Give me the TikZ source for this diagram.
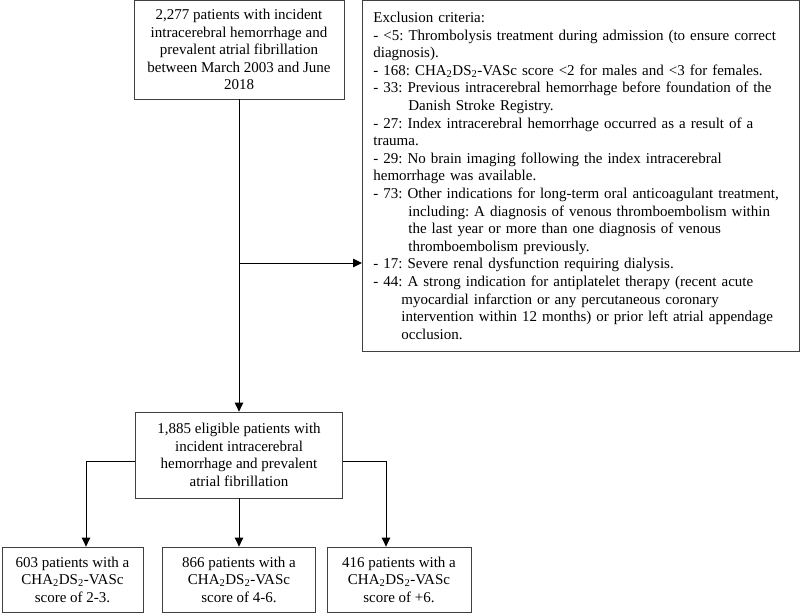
\documentclass[tikz,border=0pt]{standalone}
\usepackage{fontspec}
\setmainfont{Liberation Serif}
\usetikzlibrary{arrows.meta}
\newcommand{\chads}{CHA\textsubscript{2}DS\textsubscript{2}-VASc}
\frenchspacing

\begin{document}
\begin{tikzpicture}[x=1pt,y=-1pt,
        box/.style={draw=black!75,line width=0.8pt,align=center,inner sep=0pt,
            font=\fontsize{15}{17.6}\selectfont},
        link/.style={line width=0.9pt,-{Triangle[length=9pt,width=8.5pt]}}]
            \useasboundingbox (0,0) rectangle (800,613);
            % cohort
            \node[box,minimum width=210pt,minimum height=99pt] (cohort) at (239,49.5)
                {2,277 patients with incident\\intracerebral hemorrhage and\\prevalent atrial fibrillation\\between March 2003 and June\\2018};
            \node[box,anchor=north west,align=left,text width=415pt,inner xsep=11pt,
                minimum height=351pt] (excl) at (362,0)
                {Exclusion criteria:\\
                - <5: Thrombolysis treatment during admission (to ensure correct\\
                diagnosis).\\
                - 168: \chads{} score <2 for males and <3 for females.\\
                - 33: Previous intracerebral hemorrhage before foundation of the\\
                \hspace*{35pt}Danish Stroke Registry.\\
                - 27: Index intracerebral hemorrhage occurred as a result of a\\
                trauma.\\
                - 29: No brain imaging following the index intracerebral\\
                hemorrhage was available.\\
                - 73: Other indications for long-term oral anticoagulant treatment,\\
                \hspace*{35pt}including: A diagnosis of venous thromboembolism within\\
                \hspace*{35pt}the last year or more than one diagnosis of venous\\
                \hspace*{35pt}thromboembolism previously.\\
                - 17: Severe renal dysfunction requiring dialysis.\\
                - 44: A strong indication for antiplatelet therapy (recent acute\\
                \hspace*{28pt}myocardial infarction or any percutaneous coronary\\
                \hspace*{28pt}intervention within 12 months) or prior left atrial appendage\\
                \hspace*{28pt}occlusion.};
            \node[box,minimum width=207pt,minimum height=86pt] (eligible) at (239,455)
                {1,885 eligible patients with\\incident intracerebral\\hemorrhage and prevalent\\atrial fibrillation};
            % score groups
            \node[box,minimum width=141pt,minimum height=65pt] (low) at (72.5,579.5)
                {603 patients with a\\\chads\\score of 2-3.};
            \node[box,minimum width=153pt,minimum height=65pt] (mid) at (239,579.5)
                {866 patients with a\\\chads\\score of 4-6.};
            \node[box,minimum width=144pt,minimum height=65pt] (high) at (399,579.5)
                {416 patients with a\\\chads\\score of +6.};
            % connectors
            \coordinate (split) at (239,263);
            \draw[link] (cohort.south) -- (eligible.north);
            \draw[link] (split) -- (split -| excl.west);
            \draw[link] ([yshift=-6pt]eligible.west) -| ([xshift=13.5pt]low.north);
            \draw[link] (eligible.south) -- (mid.north);
            \draw[link] ([yshift=-6pt]eligible.east) -| ([xshift=-13pt]high.north);
        \end{tikzpicture}
\end{document}
